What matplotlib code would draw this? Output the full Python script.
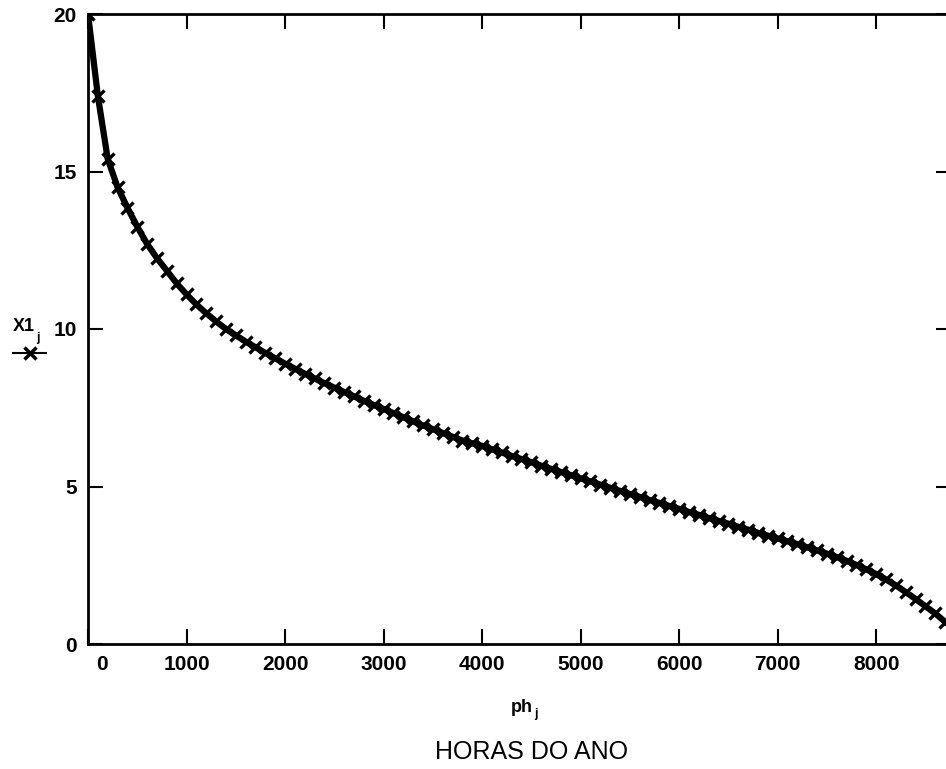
import numpy as np
import matplotlib.pyplot as plt
from matplotlib.lines import Line2D

plt.rcParams['font.family'] = ['Liberation Sans', 'DejaVu Sans']

# load duration curve, one value every 100 hours of the year
hour_step = 100
load = [20.0, 17.4, 15.4, 14.5, 13.85, 13.25, 12.7, 12.25, 11.85, 11.45,
        11.1, 10.78, 10.5, 10.24, 10.0, 9.8, 9.6, 9.42, 9.24, 9.07,
        8.9, 8.74, 8.58, 8.43, 8.28, 8.14, 8.0, 7.86, 7.72, 7.59,
        7.46, 7.33, 7.2, 7.07, 6.94, 6.82, 6.7, 6.58, 6.46, 6.37,
        6.29, 6.18, 6.08, 5.97, 5.87, 5.77, 5.66, 5.56, 5.46, 5.36,
        5.26, 5.16, 5.06, 4.96, 4.86, 4.76, 4.67, 4.57, 4.48, 4.38,
        4.29, 4.19, 4.1, 4.0, 3.91, 3.82, 3.72, 3.63, 3.53, 3.44,
        3.35, 3.26, 3.17, 3.07, 2.97, 2.87, 2.76, 2.64, 2.51, 2.37,
        2.22, 2.05, 1.86, 1.65, 1.43, 1.2, 0.97, 0.7]
hours = np.arange(len(load)) * hour_step

x_ticks = [0, 1000, 2000, 3000, 4000, 5000, 6000, 7000, 8000]
y_ticks = [0, 5, 10, 15, 20]

W, H = 946, 769
fig = plt.figure(figsize=(W / 100, H / 100), dpi=100)
ax = fig.add_axes([88 / W, 1 - 644 / H, (951 - 88) / W, 630 / H])

ax.plot(hours, load, color='black', lw=4.5, marker='x', ms=9, mew=2.4)

ax.set_xlim(0, 8760)
ax.set_ylim(0, 20)
ax.set_xticks(x_ticks)
ax.set_yticks(y_ticks)
ax.set_xticklabels([''] + [str(t) for t in x_ticks[1:]])
ax.tick_params(direction='in', length=11, width=1.5, top=True, right=True,
               labelsize=15, pad=8)
for lbl in ax.get_xticklabels() + ax.get_yticklabels():
    lbl.set_fontweight('bold')
for sp in ax.spines.values():
    sp.set_linewidth(2)

# the "0" on the x axis sits a little right of the corner
ax.annotate('0', xy=(0, 0), xycoords='data', xytext=(10, -8),
            textcoords='offset points', ha='center', va='top',
            fontsize=15, fontweight='bold')

# y label with its legend symbol
fig.text(13 / W, 1 - 331 / H, 'X1', fontsize=13, fontweight='bold', va='baseline')
fig.text(36 / W, 1 - 341 / H, 'j', fontsize=9, fontweight='bold', va='baseline')
fig.add_artist(Line2D([13 / W, 46 / W], [1 - 353 / H] * 2, transform=fig.transFigure,
                      color='black', lw=1.5))
fig.add_artist(Line2D([30 / W], [1 - 353 / H], transform=fig.transFigure,
                      color='black', marker='x', ms=8, mew=2.5))

# x label
fig.text(522 / W, 1 - 712 / H, 'ph', fontsize=13, fontweight='bold',
         ha='center', va='baseline')
fig.text(534 / W, 1 - 717 / H, 'j', fontsize=9, fontweight='bold', va='baseline')

fig.text(532 / W, 1 - 752 / H, 'HORAS DO ANO', fontsize=18,
         ha='center', va='center')

fig.savefig('out.png', dpi=100)
